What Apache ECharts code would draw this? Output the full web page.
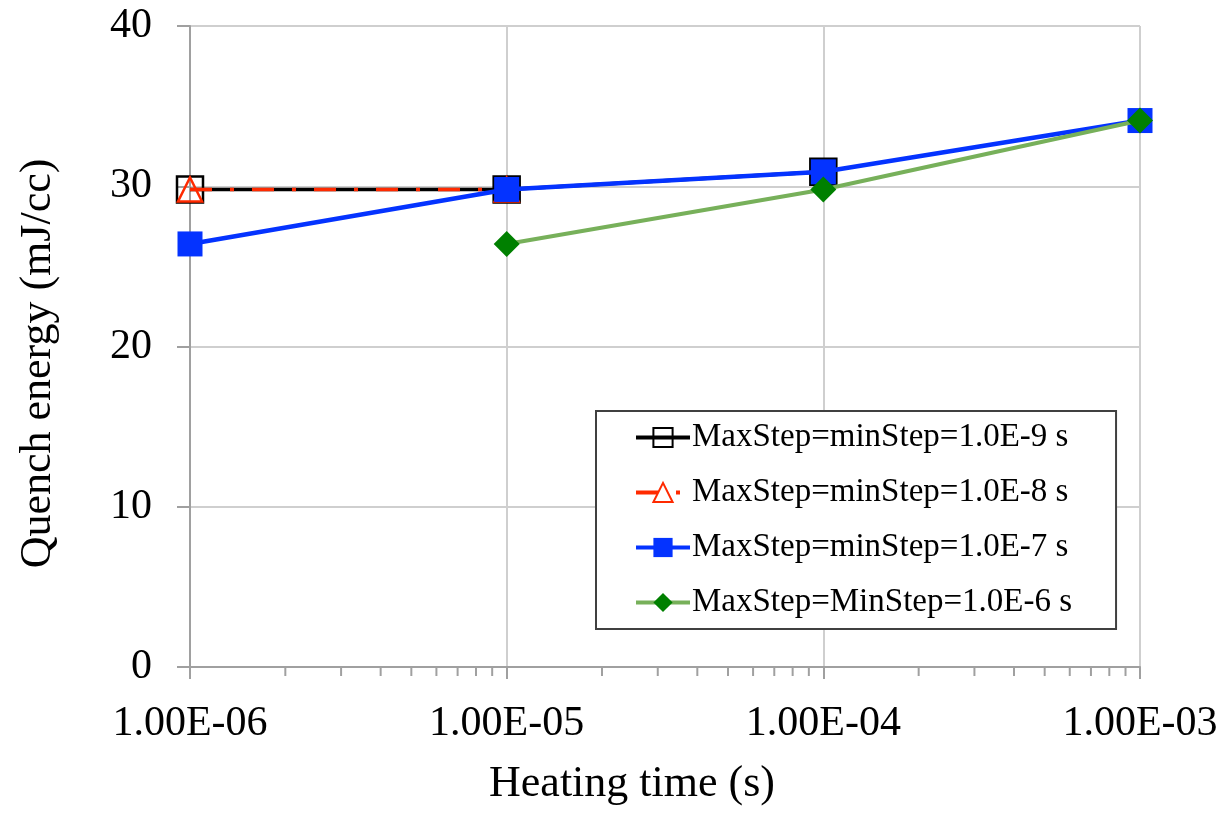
<!DOCTYPE html>
<html>
<head>
<meta charset="utf-8">
<script src="https://cdn.jsdelivr.net/npm/echarts@6/dist/echarts.min.js"></script>
<style>
html,body{margin:0;padding:0;background:#fff;}
#chart{width:1223px;height:817px;}
</style>
</head>
<body>
<div id="chart"></div>
<script>
// ---- data ----
var heatingTimes = [1e-6, 1e-5, 1e-4, 1e-3];
var seriesNames = [
  'MaxStep=minStep=1.0E-9 s',
  'MaxStep=minStep=1.0E-8 s',
  'MaxStep=minStep=1.0E-7 s',
  'MaxStep=MinStep=1.0E-6 s'
];
var step9 = [29.8, 29.8, 30.9, null];
var step8 = [29.8, 29.8, null, null];
var step7 = [26.4, 29.8, 30.9, 34.1];
var step6 = [null, 26.4, 29.8, 34.1];
var yTicks = [0, 10, 20, 30, 40];
var minorMultipliers = [2, 3, 4, 5, 6, 7, 8, 9];
var minorDecades = [1e-6, 1e-5, 1e-4];

function pairs(vals) {
  var out = [];
  for (var i = 0; i < heatingTimes.length; i++) {
    if (vals[i] !== null) out.push([heatingTimes[i], vals[i]]);
  }
  return out;
}
var minorTickData = [];
minorDecades.forEach(function (d) {
  minorMultipliers.forEach(function (m) { minorTickData.push([m * d, 0]); });
});

function fmtExp(v) {
  var s = Number(v).toExponential(2);
  var parts = s.split('e');
  var exp = parseInt(parts[1], 10);
  var sign = exp < 0 ? '-' : '+';
  var a = Math.abs(exp);
  return parts[0] + 'E' + sign + (a < 10 ? '0' + a : a);
}

var FONT = '"Liberation Serif", "Times New Roman", serif';
var chart = echarts.init(document.getElementById('chart'), null, {renderer: 'canvas'});
var option = {
  animation: false,
  backgroundColor: '#fff',
  textStyle: {fontFamily: FONT},
  grid: {left: 190, right: 83, top: 26, bottom: 150, containLabel: false},
  legend: {
    orient: 'vertical',
    left: 596,
    top: 411,
    padding: [10, 44, 10, 38],
    itemGap: 22,
    itemWidth: 54,
    itemHeight: 24,
    borderColor: '#404040',
    borderWidth: 2,
    backgroundColor: '#fff',
    lineStyle: {width: 4},
    textStyle: {fontFamily: FONT, fontSize: 33, color: '#000', padding: [0, 0, 0, -3]},
    data: seriesNames
  },
  xAxis: {
    type: 'log',
    logBase: 10,
    min: 1e-6,
    max: 1e-3,
    name: 'Heating time (s)',
    nameLocation: 'middle',
    nameGap: 95,
    nameTextStyle: {fontFamily: FONT, fontSize: 44, color: '#000', padding: [0, 66, 0, 0]},
    axisLine: {lineStyle: {color: '#a0a0a0', width: 2}},
    axisTick: {show: true, length: 12, lineStyle: {color: '#a0a0a0', width: 2}},
    splitLine: {show: true, lineStyle: {color: '#cfcfcf', width: 2}},
    axisLabel: {fontFamily: FONT, fontSize: 42, color: '#000', margin: 36, formatter: fmtExp}
  },
  yAxis: {
    type: 'value',
    min: yTicks[0],
    max: yTicks[yTicks.length - 1],
    interval: 10,
    name: 'Quench energy (mJ/cc)',
    nameLocation: 'middle',
    nameGap: 130,
    nameTextStyle: {fontFamily: FONT, fontSize: 44, color: '#000', padding: [0, 34, 0, 0]},
    axisLine: {show: true, lineStyle: {color: '#a0a0a0', width: 2}},
    axisTick: {show: true, length: 13, lineStyle: {color: '#a0a0a0', width: 2}},
    splitLine: {show: true, lineStyle: {color: '#cfcfcf', width: 2}},
    axisLabel: {fontFamily: FONT, fontSize: 42, color: '#000', margin: 38}
  },
  series: [
    {
      name: seriesNames[0], type: 'line', data: pairs(step9), z: 2,
      symbol: 'rect', symbolSize: 26, showAllSymbol: true,
      lineStyle: {color: '#000', width: 3.5},
      itemStyle: {color: 'rgba(255,255,255,0)', borderColor: '#000', borderWidth: 2.5}
    },
    {
      name: seriesNames[1], type: 'line', data: pairs(step8), z: 3,
      symbol: 'triangle', symbolSize: 24,
      lineStyle: {color: '#ff2a00', width: 3.5, type: [22, 18, 4, 18]},
      itemStyle: {color: 'rgba(255,255,255,0)', borderColor: '#ff2a00', borderWidth: 2.5}
    },
    {
      name: seriesNames[2], type: 'line', data: pairs(step7), z: 4,
      symbol: 'rect', symbolSize: 25,
      lineStyle: {color: '#0433ff', width: 4.5},
      itemStyle: {color: '#0433ff', borderColor: '#0433ff', borderWidth: 0}
    },
    {
      name: seriesNames[3], type: 'line', data: pairs(step6), z: 5,
      symbol: 'diamond', symbolSize: 26,
      lineStyle: {color: '#77b05a', width: 4},
      itemStyle: {color: '#008000', borderColor: '#008000', borderWidth: 0}
    },
    {
      type: 'custom', name: 'minorTicks', data: minorTickData, clip: false,
      silent: true, z: 1, legendHoverLink: false,
      renderItem: function (params, api) {
        var p = api.coord([api.value(0), api.value(1)]);
        return {
          type: 'line',
          shape: {x1: p[0], y1: p[1], x2: p[0], y2: p[1] + 9},
          style: {stroke: '#a0a0a0', lineWidth: 2}
        };
      }
    }
  ]
};
chart.setOption(option);
</script>
</body>
</html>
